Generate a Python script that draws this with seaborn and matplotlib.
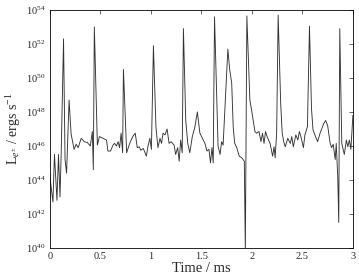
import matplotlib
matplotlib.use("Agg")
import matplotlib.pyplot as plt
import matplotlib.ticker as mticker
import seaborn as sns
import numpy as np
import pandas as pd

# time in ms and log10 of the luminosity
time_ms = [0.00, 0.03, 0.045, 0.07, 0.085, 0.10, 0.112, 0.135, 0.15, 0.165,
           0.19, 0.21, 0.24, 0.26, 0.28, 0.31, 0.34, 0.37, 0.40, 0.42,
           0.43, 0.44, 0.47, 0.49, 0.525, 0.56, 0.575, 0.60, 0.625, 0.64,
           0.66, 0.675, 0.69, 0.705, 0.72, 0.728, 0.76, 0.79, 0.82, 0.845,
           0.865, 0.885, 0.90, 0.925, 0.955, 0.97, 0.99, 1.005, 1.025, 1.05,
           1.07, 1.09, 1.105, 1.12, 1.14, 1.16, 1.18, 1.20, 1.23, 1.245,
           1.265, 1.28, 1.295, 1.31, 1.322, 1.345, 1.365, 1.385, 1.41, 1.435,
           1.46, 1.485, 1.51, 1.535, 1.555, 1.575, 1.59, 1.605, 1.617, 1.63,
           1.665, 1.685, 1.70, 1.715, 1.762, 1.78, 1.80, 1.815, 1.83, 1.85,
           1.875, 1.90, 1.925, 1.935, 1.95, 1.98, 2.00, 2.03, 2.045, 2.07,
           2.09, 2.105, 2.12, 2.135, 2.15, 2.18, 2.205, 2.22, 2.23, 2.245,
           2.26, 2.285, 2.30, 2.315, 2.33, 2.355, 2.38, 2.395, 2.41, 2.435,
           2.455, 2.47, 2.485, 2.51, 2.525, 2.55, 2.57, 2.59, 2.605, 2.63,
           2.65, 2.675, 2.71, 2.73, 2.75, 2.775, 2.79, 2.805, 2.825, 2.835,
           2.85, 2.86, 2.87, 2.89, 2.915, 2.935, 2.95, 2.965, 2.98, 3.00]
log_lum = [44.2, 42.7, 45.5, 42.8, 45.5, 43.0, 45.6, 52.3, 45.2, 44.4,
           48.7, 46.7, 45.8, 46.1, 45.9, 46.45, 46.25, 46.2, 46.0, 46.85,
           44.6, 53.0, 46.05, 46.55, 46.45, 46.35, 45.7, 45.7, 46.05, 46.15,
           46.0, 46.25, 45.9, 46.75, 45.6, 50.5, 45.6, 46.15, 46.55, 46.75,
           45.9, 45.95, 45.75, 45.85, 45.4, 45.95, 46.45, 45.8, 51.9, 47.1,
           45.9, 46.45, 46.15, 46.75, 46.65, 47.0, 46.15, 46.25, 46.05, 45.5,
           45.9, 45.1, 46.35, 45.6, 52.9, 47.5, 46.15, 45.6, 46.55, 47.1,
           48.0, 46.75, 46.45, 46.15, 45.7, 45.8, 45.0, 45.9, 45.0, 53.6,
           46.0, 45.5, 46.25, 46.05, 51.7, 50.5, 49.7, 47.1, 46.15, 45.9,
           45.4, 45.3, 45.1, 39.8, 53.65, 48.7, 48.0, 46.85, 46.75, 46.85,
           46.25, 46.75, 46.15, 46.85, 46.55, 46.15, 45.4, 45.95, 45.3, 46.75,
           53.7, 48.5, 46.75, 46.25, 45.95, 46.45, 46.15, 46.55, 45.95, 46.65,
           46.35, 46.85, 46.55, 45.9, 46.65, 47.15, 53.05, 48.2, 46.95, 46.55,
           46.25, 46.75, 47.3, 47.5, 47.2, 46.15, 45.9, 46.1, 45.2, 46.15,
           44.2, 41.5, 52.9, 46.15, 45.5, 46.35, 45.95, 46.35, 45.8, 47.8]

df = pd.DataFrame({"t": time_ms, "L": 10.0 ** np.array(log_lum)})

sns.set_style("white")
plt.rcParams["font.family"] = ["Liberation Serif", "DejaVu Serif"]
plt.rcParams["mathtext.fontset"] = "custom"
plt.rcParams["mathtext.rm"] = "Liberation Serif"
plt.rcParams["mathtext.it"] = "Liberation Serif:italic"

fig = plt.figure(figsize=(3.59, 2.77), dpi=100)
ax = fig.add_axes([0.139, 0.105, 0.844, 0.859])
sns.lineplot(data=df, x="t", y="L", ax=ax, color="#333333", linewidth=0.65)

ax.set_yscale("log")
ax.set_xlim(0, 3)
ax.set_ylim(1e40, 1e54)
ax.set_xticks([0, 0.5, 1, 1.5, 2, 2.5, 3])
ax.set_xticklabels(["0", "0.5", "1", "1.5", "2", "2.5", "3"])
ax.yaxis.set_major_locator(mticker.FixedLocator([10.0 ** k for k in range(40, 55, 2)]))
ax.yaxis.set_major_formatter(mticker.LogFormatterMathtext())
ax.yaxis.set_minor_locator(mticker.NullLocator())
ax.tick_params(direction="in", top=True, right=True, length=3, width=0.5,
               labelsize=7.5, pad=3)
for s in ax.spines.values():
    s.set_linewidth(0.6)
    s.set_color("black")

ax.set_xlabel("Time / ms", fontsize=10.5, labelpad=1)
ax.set_ylabel(r"L$_{e^{\pm}}$ / ergs s$^{-1}$", fontsize=10, labelpad=2)

fig.savefig("out.png", dpi=100)
